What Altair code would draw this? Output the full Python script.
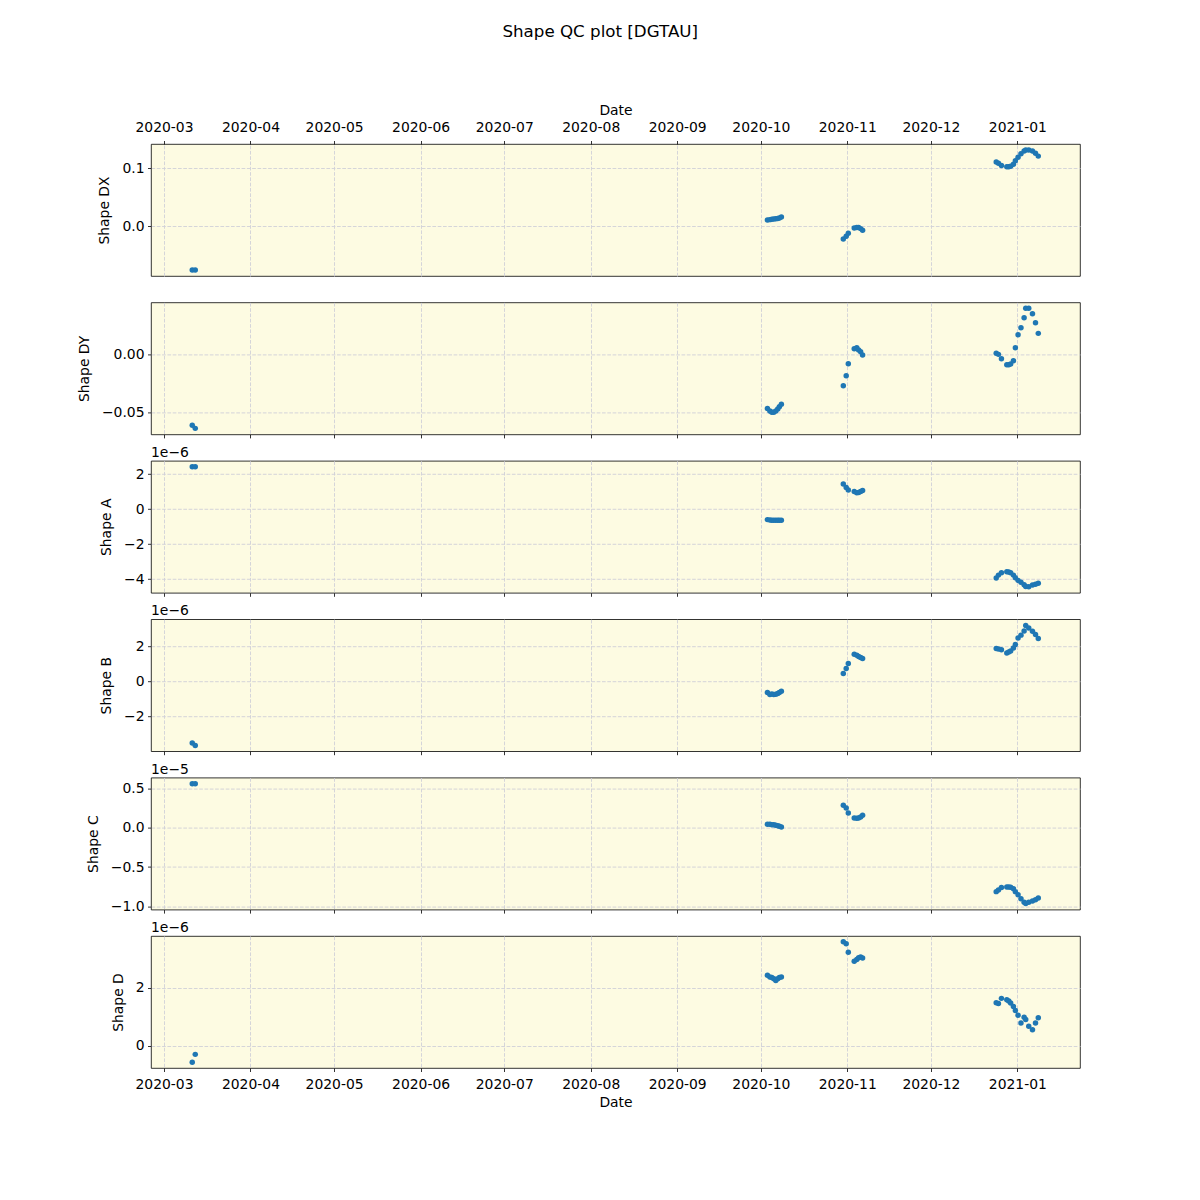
import altair as alt
import pandas as pd

DATES = [
    "2020-03-11T03:00:00Z", "2020-03-12T05:00:00Z",
    "2020-10-03T09:00:00Z", "2020-10-04T06:00:00Z", "2020-10-04T23:00:00Z", "2020-10-05T16:00:00Z",
    "2020-10-06T09:00:00Z", "2020-10-07T02:00:00Z", "2020-10-07T16:00:00Z", "2020-10-08T09:00:00Z",
    "2020-10-30T14:00:00Z", "2020-10-31T15:00:00Z", "2020-11-01T09:00:00Z", "2020-11-03T12:00:00Z",
    "2020-11-04T10:00:00Z", "2020-11-05T02:00:00Z", "2020-11-05T19:00:00Z", "2020-11-06T12:00:00Z",
    "2020-12-24T10:00:00Z", "2020-12-25T05:00:00Z", "2020-12-26T07:00:00Z", "2020-12-28T05:00:00Z",
    "2020-12-28T22:00:00Z", "2020-12-29T14:00:00Z", "2020-12-30T14:00:00Z", "2020-12-31T07:00:00Z",
    "2021-01-01T06:00:00Z", "2021-01-02T07:00:00Z", "2021-01-03T10:00:00Z", "2021-01-04T00:00:00Z",
    "2021-01-05T02:00:00Z", "2021-01-06T10:00:00Z", "2021-01-07T12:00:00Z", "2021-01-08T12:00:00Z",
]

SHAPE_DX = [-0.0752, -0.0752,
            0.011, 0.0115, 0.012, 0.0125, 0.013, 0.0135, 0.0145, 0.016,
            -0.022, -0.017, -0.012, -0.003, -0.002, -0.002, -0.004, -0.007,
            0.111, 0.1086, 0.105, 0.1028, 0.1028, 0.1035, 0.107, 0.113,
            0.119, 0.1252, 0.130, 0.1316, 0.1316, 0.1298, 0.126, 0.121]

SHAPE_DY = [-0.0612, -0.0638,
            -0.0466, -0.0489, -0.0500, -0.0500, -0.0489, -0.0471, -0.0451, -0.0431,
            -0.0270, -0.0184, -0.0080, 0.0049, 0.0058, 0.0037, 0.0023, -0.0006,
            0.0009, 0.0000, -0.0037, -0.0089, -0.0089, -0.0083, -0.0055, 0.0057,
            0.0170, 0.0230, 0.0316, 0.0397, 0.0397, 0.0351, 0.0273, 0.0181]

# in units of 1e-6
SHAPE_A = [2.42, 2.42,
           -0.60, -0.62, -0.63, -0.63, -0.63, -0.63, -0.63, -0.63,
           1.43, 1.24, 1.09, 1.01, 0.93, 0.95, 1.01, 1.06,
           -3.94, -3.77, -3.64, -3.58, -3.59, -3.64, -3.77, -3.92,
           -4.07, -4.18, -4.32, -4.42, -4.44, -4.34, -4.29, -4.23]

# in units of 1e-6
SHAPE_B = [-3.51, -3.66,
           -0.63, -0.74, -0.71, -0.74, -0.73, -0.69, -0.63, -0.55,
           0.46, 0.74, 1.03, 1.56, 1.50, 1.43, 1.37, 1.31,
           1.89, 1.86, 1.81, 1.63, 1.69, 1.75, 1.92, 2.11,
           2.49, 2.65, 2.89, 3.20, 3.06, 2.87, 2.69, 2.46]

# in units of 1e-5
SHAPE_C = [0.558, 0.558,
           0.042, 0.042, 0.038, 0.038, 0.029, 0.025, 0.017, 0.009,
           0.283, 0.250, 0.186, 0.123, 0.118, 0.123, 0.136, 0.156,
           -0.812, -0.791, -0.761, -0.753, -0.753, -0.757, -0.774, -0.812,
           -0.850, -0.901, -0.948, -0.964, -0.948, -0.930, -0.914, -0.893]

# in units of 1e-6
SHAPE_D = [-0.56, -0.29,
           2.44, 2.38, 2.36, 2.32, 2.26, 2.32, 2.36, 2.38,
           3.59, 3.52, 3.23, 2.92, 2.98, 3.04, 3.07, 3.03,
           1.49, 1.46, 1.64, 1.59, 1.55, 1.48, 1.36, 1.22,
           1.06, 0.79, 0.99, 0.91, 0.68, 0.56, 0.79, 0.97]

PANELS = [
    # label, values, y-domain, y ticks, format, offset text
    ("Shape DX", SHAPE_DX, [-0.0857, 0.1419], [0.0, 0.1], ".1f", None),
    ("Shape DY", SHAPE_DY, [-0.069, 0.0448], [-0.05, 0.0], ".2f", None),
    ("Shape A", SHAPE_A, [-4.78, 2.76], [-4, -2, 0, 2], "d", "1e\u22126"),
    ("Shape B", SHAPE_B, [-3.98, 3.56], [-4, -2, 0, 2], "d", "1e\u22126"),
    ("Shape C", SHAPE_C, [-1.04, 0.635], [-1.0, -0.5, 0.0, 0.5], ".1f", "1e\u22125"),
    ("Shape D", SHAPE_D, [-0.76, 3.79], [0, 2], "d", "1e\u22126"),
]

FONT = "DejaVu Sans"
FS = 13.9
W, H = 929, 132
GRID = "#d0d0d8"

x_domain = [alt.DateTime(year=2020, month=2, date=25, hours=8, utc=True),
            alt.DateTime(year=2021, month=1, date=23, hours=11, utc=True)]

panels = []
n = len(PANELS)
for i, (label, vals, ydom, yticks, fmt, offset) in enumerate(PANELS):
    df = pd.DataFrame({"date": DATES, "value": vals})
    common = dict(tickCount={"interval": "month", "step": 1}, format="%Y-%m",
                  grid=True, gridColor=GRID, gridDash=[3.7, 1.6], gridWidth=0.9,
                  tickColor="black", tickSize=3.5, tickWidth=0.8, domain=False,
                  labelFont=FONT, labelFontSize=FS, labelColor="black",
                  titleFont=FONT, titleFontSize=FS, titleFontWeight="normal",
                  titleColor="black")
    if i == 0:
        xaxis = alt.Axis(orient="top", title="Date", labelPadding=6.5, titlePadding=3, **common)
    elif i == n - 1:
        xaxis = alt.Axis(orient="bottom", title="Date", labelPadding=5.5, titlePadding=5, **common)
    else:
        xaxis = alt.Axis(orient="bottom", title=None, labels=False, **common)
    yaxis = alt.Axis(values=yticks, format=fmt, title=label,
                     grid=True, gridColor=GRID, gridDash=[3.7, 1.6], gridWidth=0.9,
                     tickColor="black", tickSize=3.5, tickWidth=0.8, domain=False,
                     labelFont=FONT, labelFontSize=FS, labelColor="black", labelPadding=3.5,
                     titleFont=FONT, titleFontSize=FS, titleFontWeight="normal",
                     titleColor="black", titlePadding=10)
    pts = alt.Chart(df).mark_circle(size=30, color="#1f77b4", opacity=1).encode(
        x=alt.X("date:T", axis=xaxis,
                scale=alt.Scale(type="utc", domain=x_domain, nice=False)),
        y=alt.Y("value:Q", axis=yaxis, scale=alt.Scale(domain=ydom, nice=False, zero=False)),
    )
    layer = pts
    if offset:
        txt = alt.Chart(pd.DataFrame({"t": [offset]})).mark_text(
            align="left", baseline="alphabetic", font=FONT, fontSize=FS, color="black"
        ).encode(x=alt.value(0), y=alt.value(-4), text="t:N")
        layer = alt.layer(pts, txt)
    panels.append(layer.properties(width=W, height=H))

chart = alt.vconcat(*panels, spacing=26.4, bounds="flush").properties(
    title=alt.TitleParams("Shape QC plot [DGTAU]", font=FONT, fontSize=16.7,
                          fontWeight="normal", color="black", anchor="middle",
                          dx=21.5, offset=62),
    padding={"left": 77, "top": 23, "right": 10, "bottom": 10},
    background="white",
).configure_view(fill="#fdfbe2", stroke="black", strokeWidth=0.8)

chart.save("out.html", embed_options={"renderer": "svg", "actions": False})
